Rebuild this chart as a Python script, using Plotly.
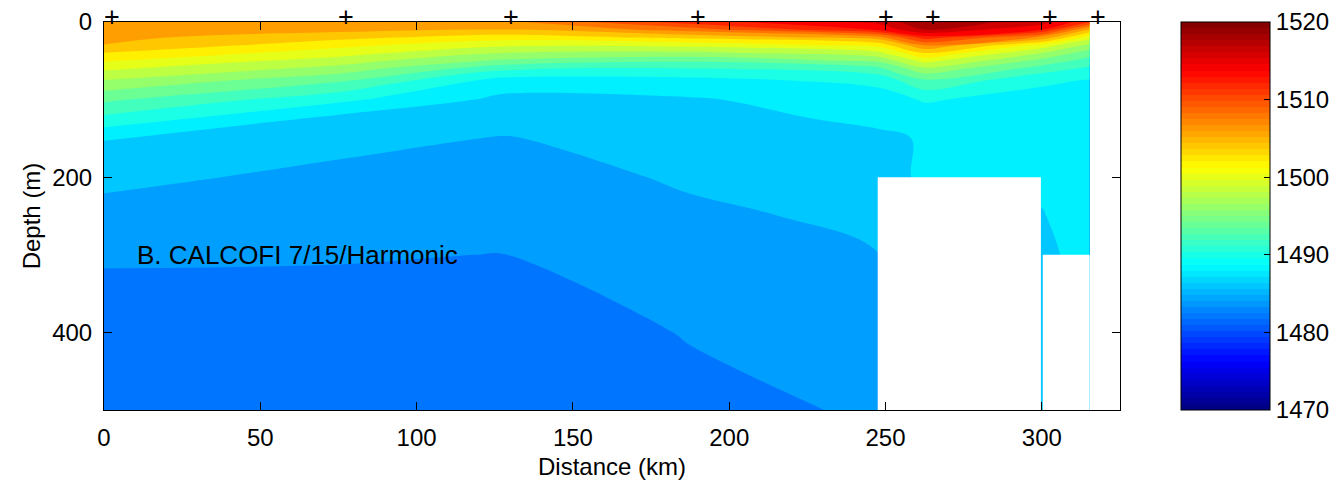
import plotly.graph_objects as go

# ---------------- data ----------------
station_km = [0, 75, 127.5, 187.5, 247.5, 262.5, 300, 315.3]
depth_m = [0, 10, 20, 30, 40, 50, 60, 75, 100, 125, 150, 200, 250, 300, 400, 500]

# sound speed (m/s) profiles at each station, listed at depth_m
ss_st1 = [1506.5, 1506.0, 1505.5, 1504.95, 1502.95, 1501.2, 1499.4, 1496.95, 1493.4, 1490.4, 1487.1, 1485.5, 1484.3, 1483.15, 1482.3, 1481.6]
ss_st2 = [1506.2, 1505.6, 1503.6, 1501.6, 1499.9, 1498.0, 1496.3, 1493.4, 1489.5, 1486.3, 1485.6, 1484.5, 1483.6, 1483.1, 1482.3, 1481.8]
ss_st3 = [1506.3, 1504.95, 1501.9, 1499.4, 1496.95, 1494.6, 1491.6, 1488.2, 1486.5, 1485.7, 1484.9, 1484.0, 1483.5, 1482.98, 1482.0, 1481.3]
ss_st4 = [1512.0, 1507.8, 1503.5, 1499.6, 1496.5, 1493.3, 1490.95, 1488.4, 1486.8, 1486.2, 1485.8, 1485.3, 1484.6, 1484.1, 1483.1, 1482.5]
ss_st5 = [1515.5, 1513.2, 1506.0, 1501.6, 1498.4, 1495.4, 1492.5, 1489.6, 1488.0, 1487.4, 1486.6, 1486.5, 1485.45, 1484.95, 1484.1, 1483.2]
ss_st6 = [1518.5, 1516.95, 1512.0, 1506.95, 1502.95, 1499.7, 1496.6, 1492.8, 1489.2, 1488.0, 1487.16, 1487.2, 1486.95, 1486.6, 1486.0, 1485.5]
ss_st7 = [1516.0, 1512.95, 1506.4, 1500.3, 1496.95, 1494.3, 1492.1, 1489.4, 1488.2, 1488.0, 1487.8, 1487.4, 1486.9, 1486.5, 1486.0, 1485.5]
ss_st8 = [1511.2, 1504.5, 1499.8, 1496.4, 1494.0, 1492.2, 1490.6, 1488.9, 1488.8, 1488.6, 1488.5, 1488.2, 1488.0, 1487.8, 1487.5, 1487.2]

# bottom (bathymetry) masks
mask_x_start = [247.5, 300.3]
mask_x_end = [299.7, 315.3]
mask_top_depth = [200, 300]
mask_bottom_depth = [500, 500]

colorbar_ticks = [1470, 1480, 1490, 1500, 1510, 1520]
x_ticks = [0, 50, 100, 150, 200, 250, 300]
y_ticks = [0, 200, 400]
label_text = "B. CALCOFI 7/15/Harmonic"

# ---------------- build ----------------
profiles = [ss_st1, ss_st2, ss_st3, ss_st4, ss_st5, ss_st6, ss_st7, ss_st8]
z = [[profiles[j][i] for j in range(len(station_km))] for i in range(len(depth_m))]

jet_cont = [[0, 'rgb(0,0,128)'], [0.125, 'rgb(0,0,255)'], [0.375, 'rgb(0,255,255)'],
            [0.625, 'rgb(255,255,0)'], [0.875, 'rgb(255,0,0)'], [1, 'rgb(128,0,0)']]


def jet64():
    cols = []
    n = 64
    for i in range(n):
        t = (i + 0.5) / n
        r = min(max(1.5 - abs(4 * t - 3), 0), 1)
        g = min(max(1.5 - abs(4 * t - 2), 0), 1)
        b = min(max(1.5 - abs(4 * t - 1), 0), 1)
        cols.append('rgb(%d,%d,%d)' % (round(r * 255), round(g * 255), round(b * 255)))
    scale = []
    for i, c in enumerate(cols):
        scale.append([i / n, c])
        scale.append([(i + 1) / n, c])
    return scale


FONT = 'Liberation Sans, Arial, Helvetica, sans-serif'
CB_X = 1.06
CB_LO, CB_HI = 1470, 1520

fig = go.Figure()
fig.add_trace(go.Contour(
    x=station_km, y=depth_m, z=z,
    colorscale=jet_cont,
    contours=dict(start=1471, end=1519, size=2, coloring='fill', showlines=False),
    line=dict(width=0),
    showscale=False,
    hoverinfo='skip',
))

for x0, x1, yt, yb in zip(mask_x_start, mask_x_end, mask_top_depth, mask_bottom_depth):
    fig.add_trace(go.Scatter(
        x=[x0, x1, x1, x0, x0], y=[yt, yt, yb, yb, yt],
        mode='lines', fill='toself', fillcolor='white',
        line=dict(width=0, color='white'), hoverinfo='skip', showlegend=False,
    ))

# colorbar only trace
fig.add_trace(go.Scatter(
    x=[None], y=[None], mode='markers', showlegend=False, hoverinfo='skip',
    marker=dict(color=[CB_LO], colorscale=jet64(), cmin=CB_LO, cmax=CB_HI, showscale=True,
                colorbar=dict(thickness=89, thicknessmode='pixels', len=1.0, lenmode='fraction',
                              x=CB_X, xanchor='left', y=0.5, yanchor='middle', xpad=0, ypad=0,
                              outlinewidth=1, outlinecolor='black',
                              tickvals=colorbar_ticks, ticks='inside', ticklen=6,
                              tickcolor='black', tickfont=dict(size=24, family=FONT, color='black'))),
))

# tick marks on the left inner side of the colorbar
shapes = []
for tv in colorbar_ticks[1:-1]:
    yp = (tv - CB_LO) / (CB_HI - CB_LO)
    shapes.append(dict(type='line', xref='paper', yref='paper', x0=CB_X, x1=CB_X + 6 / 1016,
                       y0=yp, y1=yp, line=dict(color='black', width=1)))

annotations = []
for sx in station_km:
    annotations.append(dict(x=sx, y=0, xref='x', yref='y', text='+', showarrow=False,
                            xanchor='left', yanchor='middle', xshift=-2, yshift=5,
                            font=dict(size=27, family=FONT, color='black')))
annotations.append(dict(x=10, y=300, xref='x', yref='y', text=label_text, showarrow=False,
                        xanchor='left', yanchor='middle',
                        font=dict(size=26, family=FONT, color='black')))

axis_common = dict(ticks='inside', ticklen=8, tickwidth=1, tickcolor='black',
                   showline=True, linecolor='black', linewidth=1, mirror='ticks',
                   showgrid=False, zeroline=False,
                   tickfont=dict(size=24, family=FONT, color='black'))

fig.update_layout(
    width=1342, height=485,
    margin=dict(l=104, r=222, t=22, b=75, pad=0, autoexpand=False),
    paper_bgcolor='white', plot_bgcolor='white',
    font=dict(family=FONT, size=24, color='black'),
    showlegend=False,
    annotations=annotations,
    shapes=shapes,
    xaxis=dict(range=[0, 325], tickvals=x_ticks, ticklabelstandoff=6,
               title=dict(text='Distance (km)', standoff=8, font=dict(size=24, family=FONT)),
               **axis_common),
    yaxis=dict(range=[500, 0], tickvals=y_ticks, ticklabelstandoff=6,
               title=dict(text='Depth (m)', standoff=4, font=dict(size=24, family=FONT)),
               **axis_common),
)

fig.write_html("out.html")
